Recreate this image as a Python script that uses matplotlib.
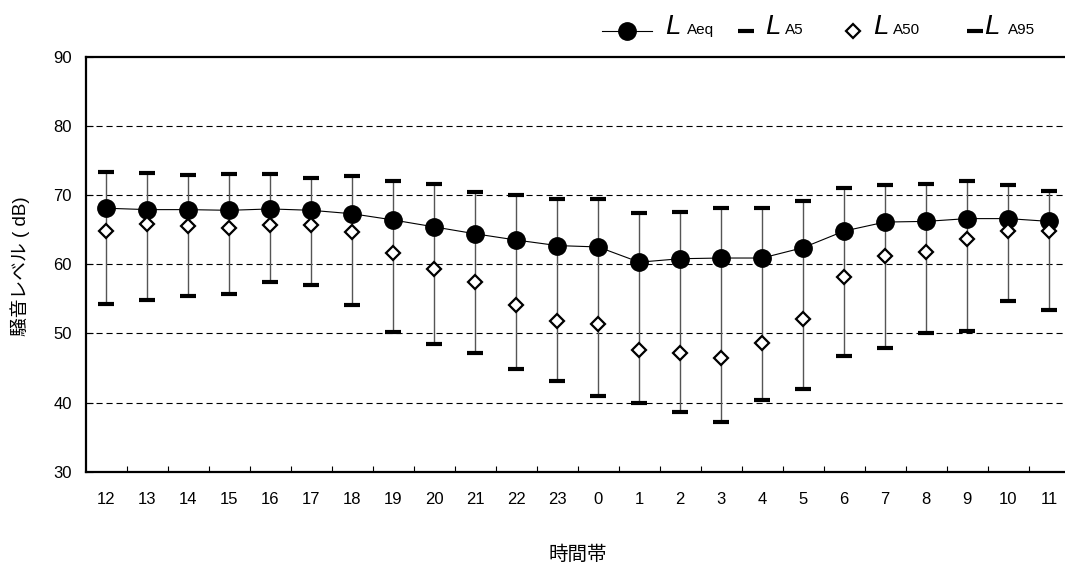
import matplotlib
matplotlib.use("Agg")
import matplotlib.pyplot as plt
from matplotlib.lines import Line2D
import numpy as np

plt.rcParams['font.family'] = ['Liberation Sans', 'Noto Sans CJK JP']

# ---- data ----
hours = ["12", "13", "14", "15", "16", "17", "18", "19", "20", "21", "22", "23",
         "0", "1", "2", "3", "4", "5", "6", "7", "8", "9", "10", "11"]
laeq = [68.1, 67.9, 67.9, 67.8, 68.0, 67.8, 67.3, 66.4, 65.4, 64.4, 63.5, 62.7,
        62.5, 60.3, 60.8, 60.9, 60.9, 62.4, 64.8, 66.1, 66.2, 66.6, 66.6, 66.2]
la5 = [73.4, 73.2, 72.9, 73.0, 73.1, 72.5, 72.7, 72.1, 71.6, 70.5, 70.0, 69.4,
       69.4, 67.4, 67.5, 68.1, 68.1, 69.2, 71.0, 71.4, 71.6, 72.1, 71.4, 70.6]
la50 = [64.8, 65.8, 65.5, 65.3, 65.7, 65.7, 64.6, 61.6, 59.3, 57.4, 54.1, 51.8,
        51.3, 47.6, 47.1, 46.5, 48.6, 52.1, 58.1, 61.2, 61.8, 63.6, 64.8, 64.8]
la95 = [54.3, 54.8, 55.4, 55.7, 57.4, 57.0, 54.1, 50.2, 48.4, 47.1, 44.8, 43.1,
        40.9, 39.9, 38.6, 37.2, 40.4, 41.9, 46.8, 47.9, 50.1, 50.3, 54.7, 53.4]
yticks = [30, 40, 50, 60, 70, 80, 90]
ylabel = "騒音レベル ( dB)"
xlabel = "時間帯"

W, H = 1065, 568
fig = plt.figure(figsize=(W / 100, H / 100), dpi=100)
ax = fig.add_axes([86 / W, 1 - 471.7 / H, (1069.5 - 86) / W, (471.7 - 56.8) / H])

x = np.arange(len(hours))

# grid
for g in yticks[1:-1]:
    ax.axhline(g, color='black', lw=0.8, ls=(0, (5.5, 3.5)), zorder=1)

# whiskers
ax.vlines(x, la95, la5, color='#555555', lw=1.0, zorder=2)
ax.plot(x, la5, ls='none', marker='_', ms=11, mew=3, color='black', zorder=3)
ax.plot(x, la95, ls='none', marker='_', ms=11, mew=3, color='black', zorder=3)
# LAeq
ax.plot(x, laeq, color='black', lw=0.8, marker='o', ms=12.5, mfc='black',
        mec='black', zorder=4)
# LA50
ax.plot(x, la50, ls='none', marker='D', ms=7.3, mfc='white', mec='black',
        mew=1.6, zorder=5)

ax.set_xlim(-0.5, len(hours) - 0.5)
ax.set_ylim(30, 90)
ax.set_yticks(yticks)
ax.set_xticks(x)
ax.set_xticklabels(hours)
ax.set_xticks(np.arange(0.5, len(hours) - 0.5, 1), minor=True)
ax.tick_params(axis='x', which='major', length=0, pad=14.4, labelsize=12)
ax.tick_params(axis='x', which='minor', direction='in', length=4.3, width=0.8)
ax.tick_params(axis='y', direction='in', length=5, width=0.8, pad=10, labelsize=12)
for s in ['left', 'bottom', 'top']:
    ax.spines[s].set_linewidth(1.6)
ax.spines['right'].set_visible(False)

fig.text(20 / W, 1 - 266 / H, ylabel, rotation=90, ha='center', va='center', fontsize=13.5)
fig.text(577.7 / W, 1 - 555 / H, xlabel, ha='center', va='center', fontsize=14)

# ---- legend (manual) ----
def fx(px):
    return px / W

def fy(py):
    return 1 - py / H

ly = 31
fig.add_artist(Line2D([fx(602), fx(652)], [fy(ly), fy(ly)], color='black', lw=0.8,
                      transform=fig.transFigure))
fig.add_artist(Line2D([fx(627)], [fy(ly)], marker='o', ms=12.5, color='black',
                      transform=fig.transFigure))
fig.add_artist(Line2D([fx(746)], [fy(ly)], marker='_', ms=11, mew=3, color='black',
                      transform=fig.transFigure))
fig.add_artist(Line2D([fx(853)], [fy(ly)], marker='D', ms=7.3, mfc='white', mec='black',
                      mew=1.6, transform=fig.transFigure))
fig.add_artist(Line2D([fx(975)], [fy(ly)], marker='_', ms=11, mew=3, color='black',
                      transform=fig.transFigure))

legend_items = [(665, 687, "Aeq"), (765, 785, "A5"), (873, 893, "A50"), (984, 1008, "A95")]
for lx, sx, sub in legend_items:
    fig.text(fx(lx), fy(33.5), "L", fontsize=20, style='italic', ha='left', va='baseline')
    fig.text(fx(sx), fy(34), sub, fontsize=11, ha='left', va='baseline')

fig.savefig("out.png", dpi=100)
